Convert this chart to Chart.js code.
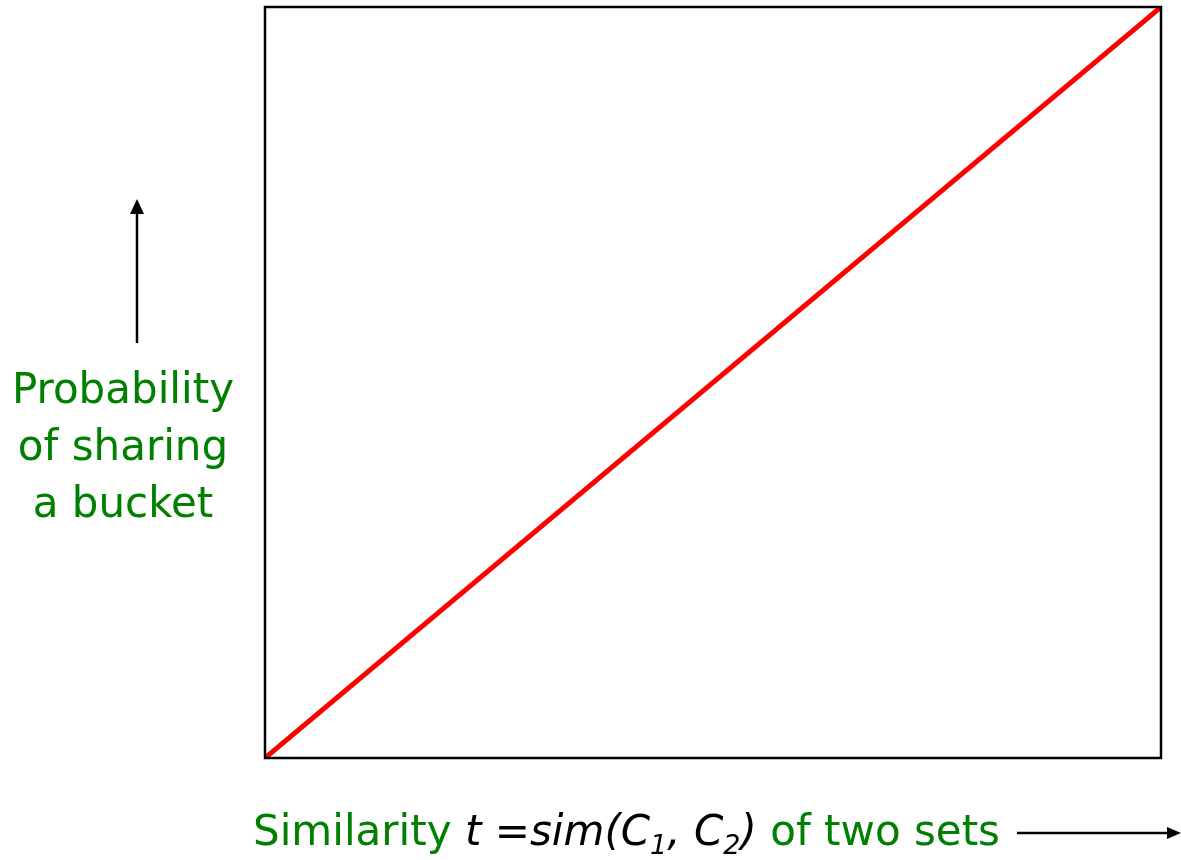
<!DOCTYPE html>
<html>
<head>
<meta charset="utf-8">
<script src="https://cdn.jsdelivr.net/npm/chart.js@4.4.0/dist/chart.umd.min.js"></script>
<style>
  html, body { margin:0; padding:0; background:#fff; }
  #wrap { width:1181px; height:860px; }
</style>
</head>
<body>
<div id="wrap"><canvas id="lshChart" width="1181" height="860"></canvas></div>
<script>
// similarity t vs probability of sharing a bucket (ideal: straight line)
const similarity = [0, 1];
const probability = [0, 1];

const yLabelLines = ['Probability', 'of sharing', 'a bucket'];
const GREEN = '#008000';
const FONT = '"DejaVu Sans", Verdana, sans-serif';

const framePlugin = {
  id: 'frame',
  afterDraw(chart) {
    const {ctx, chartArea: a} = chart;
    ctx.save();
    ctx.strokeStyle = '#000';
    ctx.lineWidth = 2.5;
    ctx.strokeRect(a.left, a.top, a.right - a.left, a.bottom - a.top);

    // y axis label + arrow
    ctx.fillStyle = GREEN;
    ctx.font = '42px ' + FONT;
    ctx.textAlign = 'center';
    ctx.textBaseline = 'alphabetic';
    yLabelLines.forEach((s, i) => ctx.fillText(s, 123, 403 + i * 57));

    ctx.strokeStyle = '#000';
    ctx.fillStyle = '#000';
    ctx.lineWidth = 2.5;
    ctx.beginPath(); ctx.moveTo(137, 343); ctx.lineTo(137, 210); ctx.stroke();
    ctx.beginPath(); ctx.moveTo(137, 199); ctx.lineTo(130, 214); ctx.lineTo(144, 214); ctx.closePath(); ctx.fill();

    // x axis label: mixed run of text
    let x = 253;
    const base = 845;
    ctx.textAlign = 'left';
    const part = (txt, font, color, dy) => {
      ctx.font = font; ctx.fillStyle = color;
      ctx.fillText(txt, x, base + (dy || 0));
      x += ctx.measureText(txt).width;
    };
    const reg = '42px ' + FONT, it = 'italic 42px ' + FONT, sub = 'italic 27px ' + FONT;
    part('Similarity ', reg, GREEN);
    part('t =sim(C', it, '#000');
    part('1', sub, '#000', 9);
    part(', C', it, '#000');
    part('2', sub, '#000', 9);
    part(')', it, '#000');
    part(' of two sets', reg, GREEN);

    ctx.strokeStyle = '#000'; ctx.fillStyle = '#000';
    ctx.beginPath(); ctx.moveTo(1017, 833); ctx.lineTo(1168, 833); ctx.stroke();
    ctx.beginPath(); ctx.moveTo(1181, 833); ctx.lineTo(1167, 827); ctx.lineTo(1167, 839); ctx.closePath(); ctx.fill();
    ctx.restore();
  }
};

new Chart(document.getElementById('lshChart').getContext('2d'), {
  type: 'line',
  data: {
    datasets: [{
      data: similarity.map((t, i) => ({x: t, y: probability[i]})),
      borderColor: '#ff0000',
      borderWidth: 5,
      pointRadius: 0,
      tension: 0
    }]
  },
  options: {
    responsive: false,
    animation: false,
    layout: {padding: {left: 265, top: 7, right: 20, bottom: 102}},
    plugins: {legend: {display: false}, tooltip: {enabled: false}},
    scales: {
      x: {type: 'linear', min: 0, max: 1, display: false},
      y: {type: 'linear', min: 0, max: 1, display: false}
    }
  },
  plugins: [framePlugin]
});
</script>
</body>
</html>
